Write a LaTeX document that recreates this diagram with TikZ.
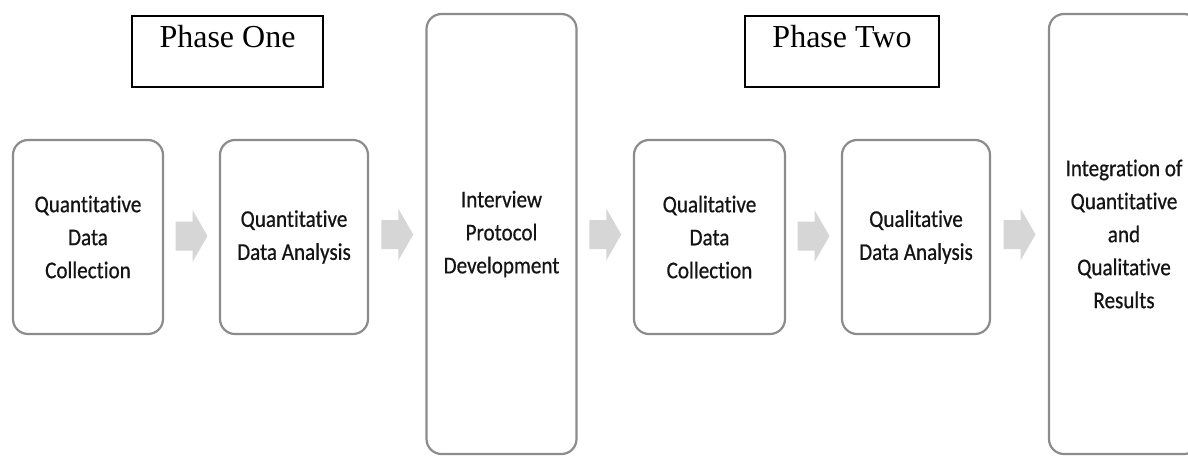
\documentclass[tikz,border=0pt]{standalone}
\usepackage{fontspec}
\setmainfont{Carlito}[FakeStretch=0.88, FakeBold=0.6, RawFeature=-liga]
\newfontfamily\phasefont{Liberation Serif}
\usetikzlibrary{calc}
\definecolor{boxline}{RGB}{140,140,140}
\definecolor{arrowfill}{RGB}{214,214,214}
\definecolor{boxtext}{RGB}{20,20,20}
\tikzset{
  stepbox/.style={draw=boxline, line width=2.2pt, rounded corners=15pt, fill=white,
    minimum width=#1, align=center, text=boxtext,
    font=\fontsize{24}{33}\selectfont, inner sep=0pt},
  shortbox/.style={minimum height=194pt},
  tallbox/.style={minimum height=440pt},
  phasebox/.style={draw=black, line width=1.3pt, minimum width=#1,
    font=\phasefont\fontsize{32}{36}\selectfont,
    text height=22pt, text depth=31pt, inner ysep=9pt, inner xsep=0pt},
  blockarrow/.pic={
    \fill[arrowfill] (-16,-14.5) -- (1,-14.5) -- (1,-26) -- (16,0) -- (1,26)
      -- (1,14.5) -- (-16,14.5) -- cycle;
  }
}
\begin{document}
\begin{tikzpicture}[x=1pt, y=-1pt]
  \clip (0,0) rectangle (1188,456);
  \fill[white] (0,0) rectangle (1188,456);

  % phase headers
  \node[phasebox=191pt] (p1) at (227.5,51.5) {Phase One};
  \node[phasebox=194pt] (p2) at (842,51.5) {Phase Two};

  % process steps
  \node[stepbox=150pt, shortbox] (b1) at (88,237) {Quantitative\\Data\\Collection};
  \node[stepbox=148pt, shortbox] (b2) at (294,237) {Quantitative\\Data Analysis};
  \node[stepbox=150pt, tallbox]  (b3) at (501.5,234) {Interview\\Protocol\\Development};
  \node[stepbox=151pt, shortbox] (b4) at (709.5,237) {Qualitative\\Data\\Collection};
  \node[stepbox=148pt, shortbox] (b5) at (916,237) {Qualitative\\Data Analysis};
  \node[stepbox=150pt, tallbox]  (b6) at (1124,234) {Integration of\\Quantitative\\and\\Qualitative\\Results};

  % block arrows between steps
  \pic at ($(b1.east)!0.5!(b2.west)+(0,-1)$) {blockarrow};
  \pic at ($(b2.east)!0.5!(b3.west)+(0,-1)$) {blockarrow};
  \pic at ($(b3.east)!0.5!(b4.west)+(0,-1)$) {blockarrow};
  \pic at ($(b4.east)!0.5!(b5.west)+(0,-1)$) {blockarrow};
  \pic at ($(b5.east)!0.5!(b6.west)+(0,-1)$) {blockarrow};
\end{tikzpicture}
\end{document}
